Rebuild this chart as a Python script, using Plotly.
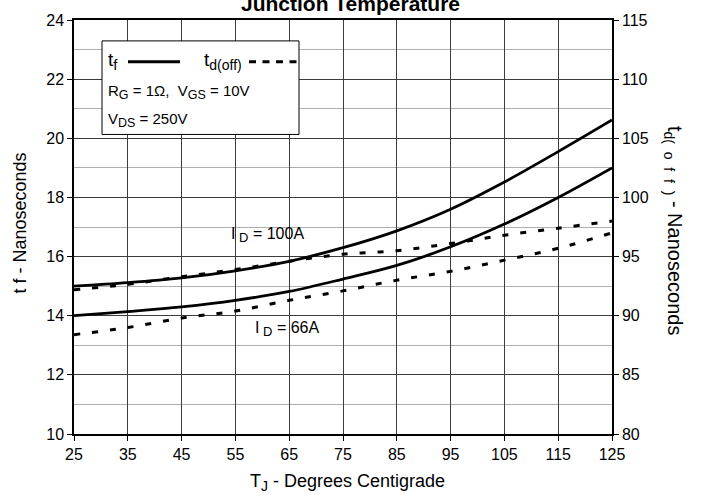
import plotly.graph_objects as go

temps = [25, 35, 45, 55, 65, 75, 85, 95, 105, 115, 125]
tf_100A = [15.0, 15.12, 15.28, 15.52, 15.84, 16.3, 16.87, 17.6, 18.52, 19.55, 20.62]
tf_66A = [14.0, 14.14, 14.3, 14.52, 14.82, 15.24, 15.7, 16.33, 17.1, 18.0, 19.0]
tdoff_100A = [92.2, 92.65, 93.3, 93.9, 94.6, 95.2, 95.5, 96.1, 96.8, 97.4, 98.0]
tdoff_66A = [88.4, 89.0, 89.8, 90.4, 91.3, 92.1, 93.0, 93.75, 94.7, 95.7, 97.0]

x_ticks = [25, 35, 45, 55, 65, 75, 85, 95, 105, 115, 125]
left_ticks = [10, 12, 14, 16, 18, 20, 22, 24]
right_ticks = [80, 85, 90, 95, 100, 105, 110, 115]

FONT = "Liberation Sans, Arial, sans-serif"
W, H = 701, 495
L, R, T, B = 74, 89, 18, 61
PW, PH = W - L - R, H - T - B


def px(x):
    return (x - L) / PW


def py(y):
    return (H - B - y) / PH


def sub(s, size):
    return f'<sub><span style="font-size:{size}px">{s}</span></sub>'


fig = go.Figure()
solid = dict(color="black", width=2.8)
dashed = dict(color="black", width=3, dash="6px,12px")
fig.add_trace(go.Scatter(x=temps, y=tf_100A, mode="lines", line=dict(**solid, shape="spline"), yaxis="y"))
fig.add_trace(go.Scatter(x=temps, y=tf_66A, mode="lines", line=dict(**solid, shape="spline"), yaxis="y"))
fig.add_trace(go.Scatter(x=temps, y=tdoff_100A, mode="lines", line=dict(**dashed, shape="spline"), yaxis="y2"))
fig.add_trace(go.Scatter(x=temps, y=tdoff_66A, mode="lines", line=dict(**dashed, shape="spline"), yaxis="y2"))

shapes = []
# legend box
shapes.append(dict(type="rect", xref="paper", yref="paper", x0=px(102), x1=px(299), y0=py(133), y1=py(39),
                   fillcolor="white", line=dict(color="black", width=1), layer="above"))
shapes.append(dict(type="line", xref="paper", yref="paper", x0=px(128), x1=px(180), y0=py(60), y1=py(60),
                   line=dict(color="black", width=3), layer="above"))
shapes.append(dict(type="line", xref="paper", yref="paper", x0=px(249), x1=px(297), y0=py(60), y1=py(60),
                   line=dict(color="black", width=3, dash="7px,6.5px"), layer="above"))
# white boxes behind current labels (hide gridlines)
shapes.append(dict(type="rect", xref="paper", yref="paper", x0=px(225), x1=px(288), y0=py(252), y1=py(215),
                   fillcolor="white", line=dict(width=0), layer="between"))
shapes.append(dict(type="rect", xref="paper", yref="paper", x0=px(290), x1=px(308), y0=py(231), y1=py(221),
                   fillcolor="white", line=dict(width=0), layer="between"))
shapes.append(dict(type="rect", xref="paper", yref="paper", x0=px(250), x1=px(324), y0=py(345), y1=py(312),
                   fillcolor="white", line=dict(width=0), layer="between"))

ann = []


def add_text(text, x, y, size, anchor="left", angle=0, bold=False):
    ann.append(dict(text=f"<b>{text}</b>" if bold else text, xref="paper", yref="paper",
                    x=px(x), y=py(y), xanchor=anchor, yanchor="middle", textangle=angle,
                    showarrow=False, font=dict(size=size, family=FONT, color="black")))


add_text("Junction Temperature", 350.5, 1.5, 21, anchor="center", bold=True)
add_text("t" + sub("f", 15), 105.5, 59, 19)
add_text("t" + sub("d(off)", 14), 202, 59, 19)
add_text("R" + sub("G", 12.5) + " = 1Ω,  V" + sub("GS", 12.5) + " = 10V", 105.5, 90, 15)
add_text("V" + sub("DS", 12.5) + " = 250V", 105.5, 118, 15)
add_text("I" + sub("&nbsp;D", 13) + " = 100A", 267.5, 234.5, 16, anchor="center")
add_text("I" + sub("&nbsp;D", 13) + " = 66A", 286.5, 328, 16, anchor="center")
add_text("T" + sub("J", 14) + " - Degrees Centigrade", 347, 483, 18, anchor="center")
add_text("t f - Nanoseconds", 20, 222.5, 18, anchor="center", angle=-90)
add_text("t" + sub("d(&nbsp;&nbsp;o&nbsp;&nbsp;f&nbsp;&nbsp;f&nbsp;&nbsp;)", 14) + " - Nanoseconds",
         673, 229, 20, anchor="center", angle=90)

fig.update_layout(
    width=W, height=H,
    margin=dict(l=L, r=R, t=T, b=B),
    paper_bgcolor="white", plot_bgcolor="white",
    showlegend=False,
    font=dict(family=FONT, size=16, color="black"),
    shapes=shapes,
    annotations=ann,
    xaxis=dict(range=[25, 125], tickvals=x_ticks, ticktext=[str(v) for v in x_ticks],
               showgrid=True, gridcolor="#3c3c3c", gridwidth=1, zeroline=False,
               showline=True, linecolor="black", linewidth=1.5, mirror=True,
               ticks="outside", ticklen=5, tickcolor="black", tickfont=dict(size=16)),
    yaxis=dict(range=[10, 24], tickvals=left_ticks, ticktext=[str(v) for v in left_ticks],
               showgrid=True, gridcolor="#3c3c3c", gridwidth=1, zeroline=False,
               minor=dict(dtick=1, showgrid=True, gridcolor="#b0b0b0", gridwidth=1),
               showline=True, linecolor="black", linewidth=1.5,
               ticks="outside", ticklen=5, tickcolor="black", tickfont=dict(size=16)),
    yaxis2=dict(range=[80, 115], tickvals=right_ticks, ticktext=[str(v) for v in right_ticks],
                overlaying="y", side="right", showgrid=False, zeroline=False,
                showline=True, linecolor="black", linewidth=1.5,
                ticks="outside", ticklen=5, tickcolor="black", tickfont=dict(size=16)),
)

fig.write_html("out.html", config={"displayModeBar": False},
               post_script="document.body.style.margin='0';document.body.style.overflow='hidden';")
